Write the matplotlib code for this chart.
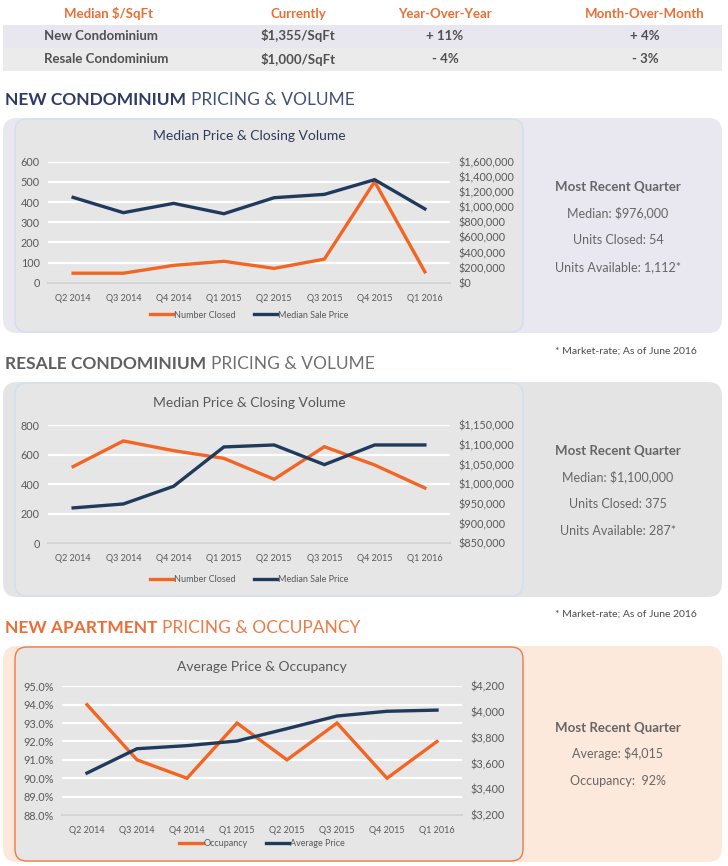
import numpy as np
import matplotlib
matplotlib.use("Agg")
from matplotlib import pyplot as plt
from matplotlib.patches import FancyBboxPatch, Rectangle
from matplotlib.ticker import FuncFormatter

plt.rcParams['font.family'] = ['Lato', 'DejaVu Sans']

# dados
quarters = ['Q2 2014', 'Q3 2014', 'Q4 2014', 'Q1 2015', 'Q2 2015', 'Q3 2015', 'Q4 2015', 'Q1 2016']

new_closed = [47, 47, 86, 106, 71, 117, 501, 54]
new_price = [1128000, 926000, 1049000, 912000, 1124000, 1168000, 1362000, 976000]

resale_closed = [520, 694, 628, 576, 434, 655, 531, 375]
resale_price = [940000, 950000, 995000, 1095000, 1100000, 1050000, 1100000, 1100000]

apt_occupancy = [94.0, 91.0, 90.0, 93.0, 91.0, 93.0, 90.0, 92.0]
apt_price = [3526, 3715, 3739, 3775, 3871, 3969, 4006, 4015]

table_header = ['Median $/SqFt', 'Currently', 'Year-Over-Year', 'Month-Over-Month']
table_rows = [['New Condominium', '$1,355/SqFt', '+ 11%', '+ 4%'],
              ['Resale Condominium', '$1,000/SqFt', '- 4%', '- 3%']]

side_new = ['Median: $976,000', 'Units Closed: 54', 'Units Available: 1,112*']
side_resale = ['Median: $1,100,000', 'Units Closed: 375', 'Units Available: 287*']
side_apt = ['Average: $4,015', 'Occupancy:  92%']

# cores
ORANGE = '#f26522'
NAVY = '#1f3a5c'
GRAY_TXT = '#666666'
TICK_TXT = '#595959'

W, H = 728, 866
fig = plt.figure(figsize=(W / 100, H / 100), dpi=100)
fig.patch.set_facecolor('white')

# eixo de fundo em pixels
bg = fig.add_axes([0, 0, 1, 1])
bg.set_xlim(0, W)
bg.set_ylim(H, 0)
bg.axis('off')
bg.set_zorder(0)


def rbox(x, y, w, h, fc, ec='none', r=12, lw=1.0):
    p = FancyBboxPatch((x, y), w, h, boxstyle=f"round,pad=0,rounding_size={r}",
                       fc=fc, ec=ec, lw=lw)
    bg.add_patch(p)


# tabela
bg.add_patch(Rectangle((3, 25), 719, 23, fc='#e8e6ee', ec='none'))
bg.add_patch(Rectangle((3, 48), 719, 23, fc='#ebebeb', ec='none'))
col_x = [108, 298, 445, 645]
for cx, t in zip(col_x, table_header):
    bg.text(cx, 14, t, ha='center', va='center', color='#e86f35', fontsize=9.5, fontweight='bold')
for i, row in enumerate(table_rows):
    yy = 36 + i * 23
    bg.text(44, yy, row[0], ha='left', va='center', color='#505050', fontsize=9.5, fontweight='bold')
    for cx, t in zip(col_x[1:], row[1:]):
        bg.text(cx, yy, t, ha='center', va='center', color='#505050', fontsize=9.5, fontweight='bold')

fig.canvas.draw()
renderer = fig.canvas.get_renderer()


def section_title(y, bold, rest, color1, color2):
    t1 = bg.text(5, y, bold, ha='left', va='center', color=color1, fontsize=12.5, fontweight='bold')
    bb = t1.get_window_extent(renderer=renderer)
    x2 = bb.x1 + 5
    bg.text(x2, y, rest, ha='left', va='center', color=color2, fontsize=12.5, fontweight='normal')


section_title(100, 'NEW CONDOMINIUM', 'PRICING & VOLUME', '#2f3b66', '#45507a')
section_title(364, 'RESALE CONDOMINIUM', 'PRICING & VOLUME', '#5f5f5f', '#707070')
section_title(628, 'NEW APARTMENT', 'PRICING & OCCUPANCY', '#ee6d35', '#f07a45')

# paineis
panels = [
    (118, 215, '#e9e7ef', '#cfdff0'),
    (382, 215, '#e4e4e4', '#cfdff0'),
    (646, 216, '#fde9dc', '#f07a40'),
]
for (py, ph, outer, border) in panels:
    rbox(3, py, 719, ph, outer, r=14)
    rbox(15, py + 1, 508, ph - 2, '#e6e6e6', ec=border, r=12, lw=1.0)

# texto lateral
side_y = [(187, side_new), (451, side_resale), (728, side_apt)]
for y0, lines in side_y:
    bg.text(618, y0, 'Most Recent Quarter', ha='center', va='center', color=GRAY_TXT,
            fontsize=9.5, fontweight='bold')
    for k, s in enumerate(lines):
        bg.text(618, y0 + 27 * (k + 1) - 1, s, ha='center', va='center', color=GRAY_TXT, fontsize=9)

bg.text(697, 351, '* Market-rate; As of June 2016', ha='right', va='center', color='#4a4a4a', fontsize=7.5)
bg.text(697, 614, '* Market-rate; As of June 2016', ha='right', va='center', color='#4a4a4a', fontsize=7.5)


def frac(x0, x1, ytop, ybot):
    return [x0 / W, 1 - ybot / H, (x1 - x0) / W, (ybot - ytop) / H]


def make_chart(rect, title, title_y, title_color, left, right, lab_l, lab_r,
               ylim_l, yt_l, ylim_r, yt_r, fmt_l, fmt_r, legend_y):
    ax = fig.add_axes(rect)
    ax.set_zorder(2)
    ax.patch.set_alpha(0)
    x = np.arange(len(quarters))
    ax.set_xlim(-0.5, len(quarters) - 0.5)
    ax.set_ylim(*ylim_l)
    ax.set_yticks(yt_l)
    ax.yaxis.set_major_formatter(FuncFormatter(fmt_l))
    ax.grid(axis='y', color='white', lw=1.6)
    ax.set_axisbelow(True)
    for s in ['top', 'left', 'right']:
        ax.spines[s].set_visible(False)
    ax.spines['bottom'].set_color('#d4d4d4')
    ax.spines['bottom'].set_linewidth(1.4)
    ax.tick_params(length=0, labelsize=7.8, labelcolor=TICK_TXT, pad=6)
    ax.tick_params(axis='x', labelsize=6.5, pad=8)
    ax.set_xticks(x)
    ax.set_xticklabels(quarters)
    l1, = ax.plot(x, left, color=ORANGE, lw=2.4, solid_joinstyle='miter', zorder=3)

    ax2 = ax.twinx()
    ax2.set_ylim(*ylim_r)
    ax2.set_yticks(yt_r)
    ax2.yaxis.set_major_formatter(FuncFormatter(fmt_r))
    for s in ['top', 'left', 'right', 'bottom']:
        ax2.spines[s].set_visible(False)
    ax2.tick_params(length=0, labelsize=7.8, labelcolor=TICK_TXT, pad=6)
    l2, = ax2.plot(x, right, color=NAVY, lw=2.4, solid_joinstyle='miter', zorder=3)

    cx = (rect[0] + rect[2] / 2)
    fig.text(cx, 1 - title_y / H, title, ha='center', va='center', color=title_color, fontsize=10)
    fig.legend([l1, l2], [lab_l, lab_r], loc='center', bbox_to_anchor=(cx, 1 - legend_y / H),
               ncol=2, frameon=False, fontsize=6.5, handlelength=2.6, handletextpad=0.1,
               columnspacing=2.0, labelcolor=TICK_TXT)
    return ax, ax2


make_chart(frac(48, 450, 161.7, 282.7), 'Median Price & Closing Volume', 136, '#2f3b5c',
           new_closed, new_price, 'Number Closed', 'Median Sale Price',
           (0, 600), range(0, 601, 100), (0, 1600000), range(0, 1600001, 200000),
           lambda v, p: f'{int(v)}', lambda v, p: f'${int(v):,}', 315)

make_chart(frac(48, 450, 425.3, 543.3), 'Median Price & Closing Volume', 403, '#595959',
           resale_closed, resale_price, 'Number Closed', 'Median Sale Price',
           (0, 800), range(0, 801, 200), (850000, 1150000), range(850000, 1150001, 50000),
           lambda v, p: f'{int(v)}', lambda v, p: f'${int(v):,}', 580)

make_chart(frac(62, 462, 686.3, 815), 'Average Price & Occupancy', 667, '#595959',
           apt_occupancy, apt_price, 'Occupancy', 'Average Price',
           (88, 95), np.arange(88, 95.01, 1), (3200, 4200), range(3200, 4201, 200),
           lambda v, p: f'{v:.1f}%', lambda v, p: f'${int(v):,}', 844)

fig.savefig('out.png', dpi=100, facecolor='white')
